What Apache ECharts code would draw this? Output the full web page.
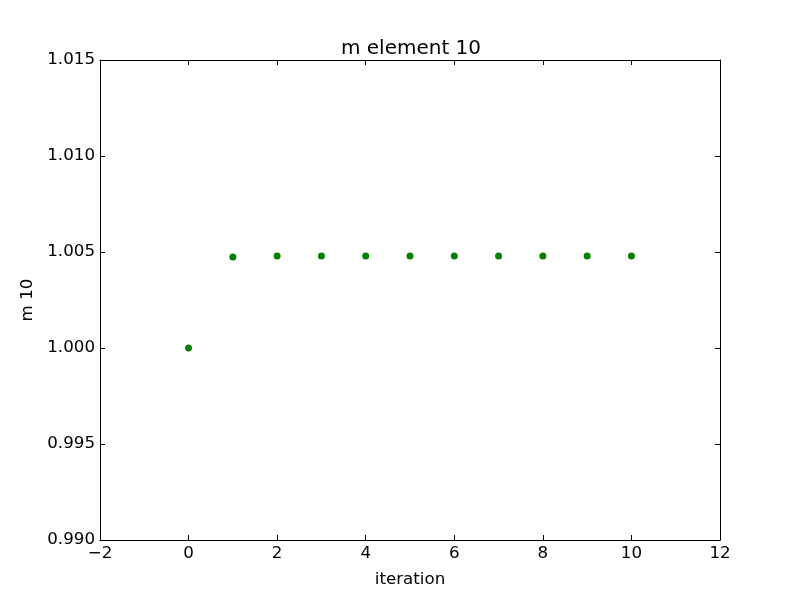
<!DOCTYPE html>
<html><head><meta charset="utf-8">
<script src="https://cdn.jsdelivr.net/npm/echarts@6/dist/echarts.min.js"></script>
<style>html,body{margin:0;padding:0;background:#fff}#c{width:800px;height:600px}</style>
</head><body><div id="c"></div>
<script>
const iterations = [0, 1, 2, 3, 4, 5, 6, 7, 8, 9, 10];
const mValues = [1.000, 1.00474, 1.00479, 1.00479, 1.00479, 1.00479, 1.00479, 1.00479, 1.00479, 1.00479, 1.00479];
const titleText = 'm element 10';
const xName = 'iteration';
const yName = 'm 10';

const font = 'DejaVu Sans';
const fs = 16.7;
const chart = echarts.init(document.getElementById('c'));
const lineStyle = {color: '#000', width: 1};
const fmtX = v => String(v).replace('-', '\u2212');
const fmtY = v => v.toFixed(3);
const baseX = {type: 'value', min: -2, max: 12, interval: 2, splitLine: {show: false},
  axisLine: {show: true, onZero: false, lineStyle}, axisTick: {show: true, inside: true, length: 5, lineStyle}};
const baseY = {type: 'value', min: 0.99, max: 1.015, interval: 0.005, splitLine: {show: false},
  axisLine: {show: true, onZero: false, lineStyle}, axisTick: {show: true, inside: true, length: 5, lineStyle}};
chart.setOption({
  animation: false,
  title: {text: titleText, left: 406, textAlign: 'center', top: 34, textStyle: {fontFamily: font, fontSize: 20, fontWeight: 'normal', color: '#000'}},
  grid: {left: 100, right: 80, top: 60, bottom: 60},
  xAxis: [
    Object.assign({}, baseX, {position: 'bottom', name: xName, nameLocation: 'middle', nameGap: 31,
      nameTextStyle: {fontFamily: font, fontSize: fs, color: '#000'},
      axisLabel: {formatter: fmtX, fontFamily: font, fontSize: fs, color: '#000', margin: 5}}),
    Object.assign({}, baseX, {position: 'top', axisLabel: {show: false}})
  ],
  yAxis: [
    Object.assign({}, baseY, {position: 'left', name: yName, nameLocation: 'middle', nameGap: 61,
      nameTextStyle: {fontFamily: font, fontSize: fs, color: '#000'},
      axisLabel: {formatter: fmtY, fontFamily: font, fontSize: fs, color: '#000', margin: 5}}),
    Object.assign({}, baseY, {position: 'right', axisLabel: {show: false}})
  ],
  series: [{
    type: 'scatter', xAxisIndex: 0, yAxisIndex: 0,
    data: iterations.map((x, i) => [x, mValues[i]]),
    symbol: 'circle', symbolSize: 7,
    itemStyle: {color: '#008000', opacity: 1}
  }]
});
</script></body></html>
